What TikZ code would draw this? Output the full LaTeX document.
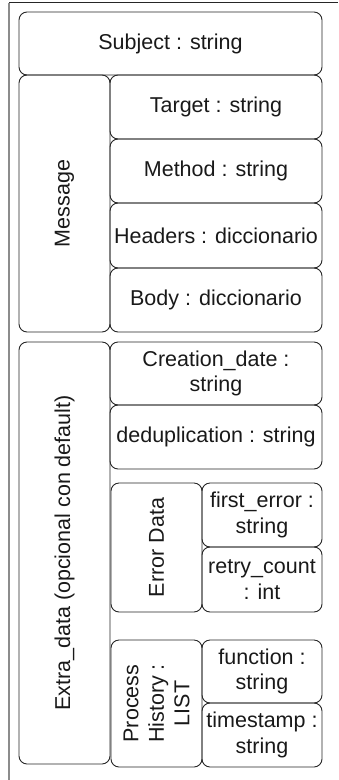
\documentclass[tikz,border=0pt]{standalone}
\usepackage{fontspec}
\setmainfont{Liberation Sans}
\begin{document}
\begin{tikzpicture}[x=1pt,y=-1pt,
  cell/.style={draw=black!85, line width=0.9pt, rounded corners=8pt,
    inner sep=0pt, align=center, text=black!90,
    font=\fontsize{21.5}{25.5}\selectfont},
  vcell/.style={cell, rotate=90}]
\useasboundingbox (0,0) rectangle (338,780);
% outer frame edges
\draw[black!85, line width=1.2pt] (9,2.5) -- (338,2.5);
\draw[black!45, line width=1.6pt] (9,2.5) -- (9,780);

% top-level field
\node[cell, minimum width=303pt, minimum height=63pt] (subject) at (170.5,43.5) {Subject : string};

% Message group
\node[vcell, minimum width=257pt, minimum height=91pt] (message) at (64.5,203.5) {Message};
\node[cell, minimum width=212pt, minimum height=64pt] (target) at (216,107) {Target : string};
\node[cell, minimum width=212pt, minimum height=64pt] (method) at (216,171) {Method : string};
\node[cell, minimum width=212pt, minimum height=65pt] (headers) at (216,235.5) {Headers : diccionario};
\node[cell, minimum width=212pt, minimum height=64pt] (body) at (216,300) {Body : diccionario};

% Extra data group
\node[vcell, minimum width=422pt, minimum height=91pt] (extra) at (64.5,553) {Extra\_data (opcional con default)};
\node[cell, minimum width=212pt, minimum height=63pt] (creation) at (216,373.5) {Creation\_date :\\string};
\node[cell, minimum width=212pt, minimum height=64pt] (dedup) at (216,437) {deduplication : string};

% Error data sub-group
\node[vcell, minimum width=129pt, minimum height=91pt] (errdata) at (156.5,547.5) {Error Data};
\node[cell, minimum width=120pt, minimum height=64pt] (firsterr) at (262,515) {first\_error :\\string};
\node[cell, minimum width=120pt, minimum height=65pt] (retry) at (262,579.5) {retry\_count\\: int};

% Process history sub-group
\node[vcell, minimum width=127pt, minimum height=91pt] (prochist) at (156.5,703.5) {Process\\History :\\LIST};
\node[cell, minimum width=120pt, minimum height=63pt] (function) at (262,671.5) {function :\\string};
\node[cell, minimum width=120pt, minimum height=64pt] (timestamp) at (262,735) {timestamp :\\string};
\end{tikzpicture}
\end{document}
